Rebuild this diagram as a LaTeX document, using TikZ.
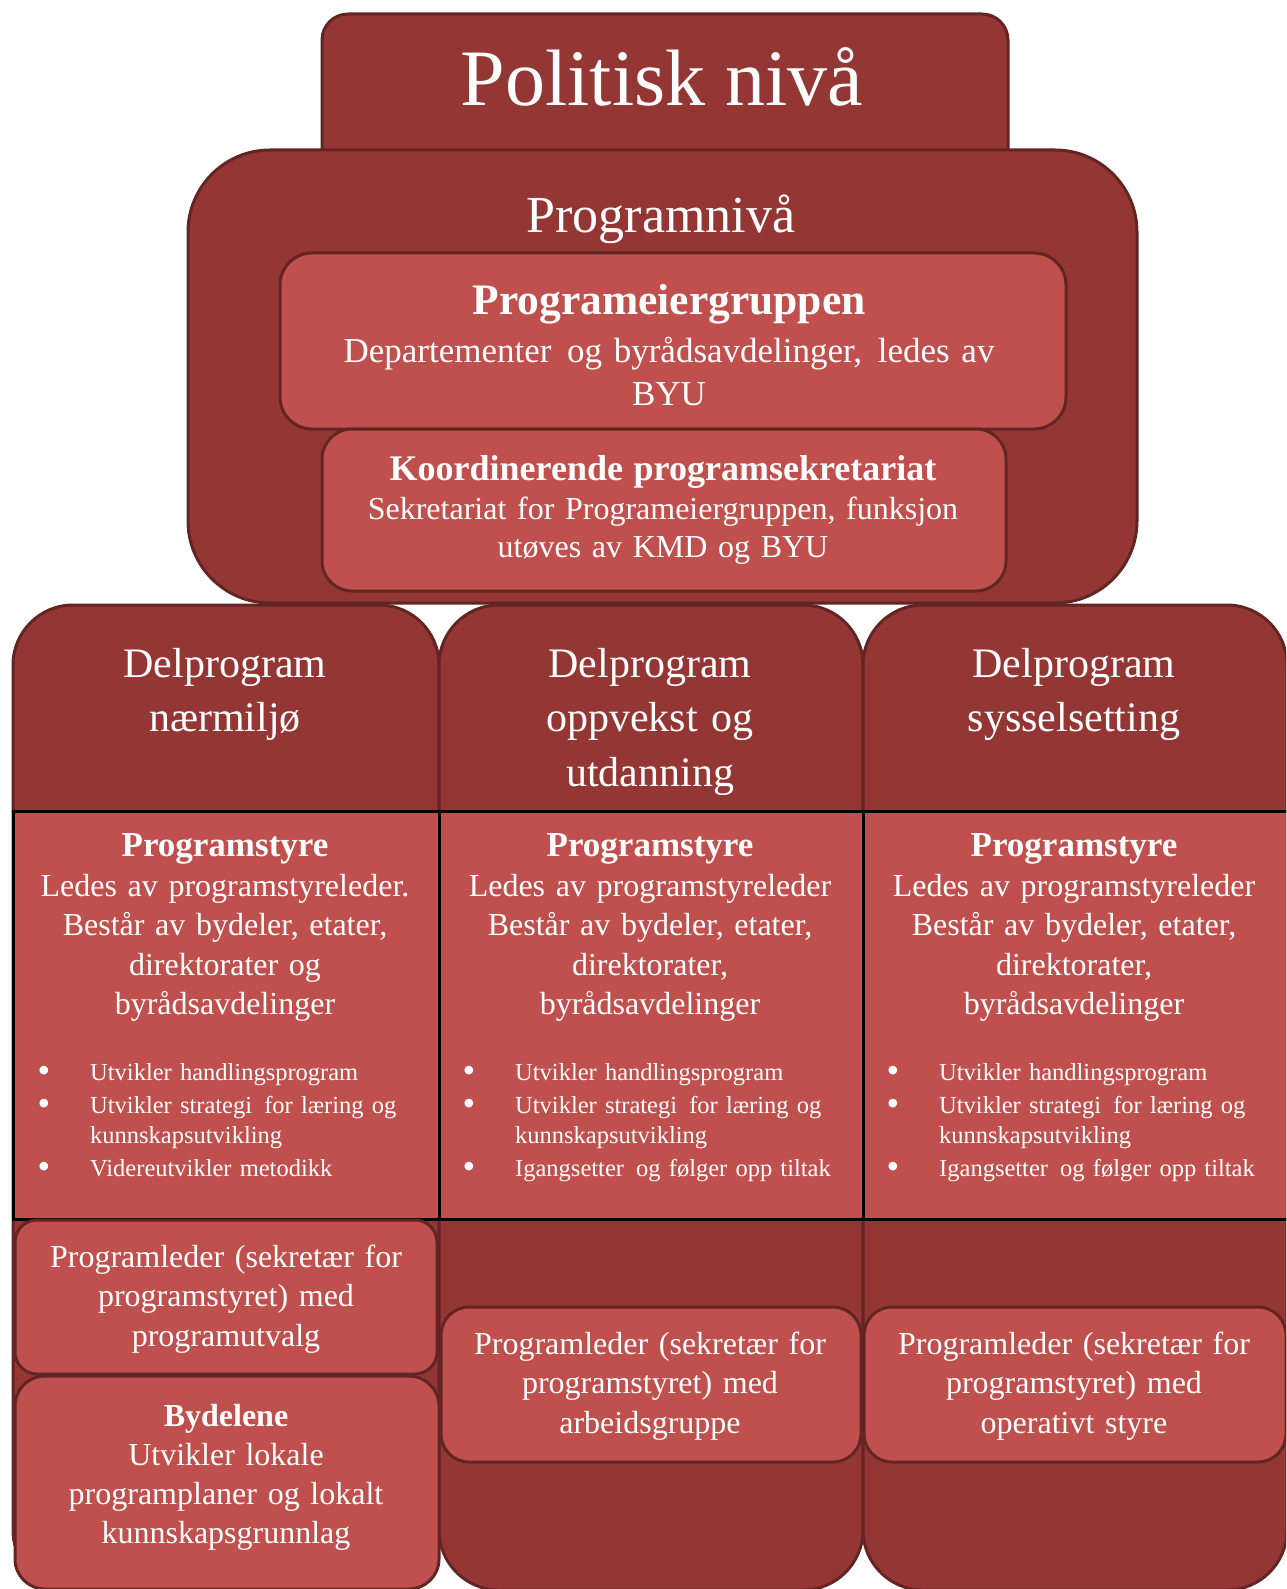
\documentclass[tikz,border=0pt]{standalone}
\usepackage{fontspec}
\setmainfont{Liberation Serif}
\usepackage{tikz}

\definecolor{darkred}{HTML}{943634}
\definecolor{lightred}{HTML}{C0504D}
\definecolor{edgered}{HTML}{632523}

\tikzset{
  darkbox/.style={draw=edgered, fill=darkred, line width=3pt},
  lightbox/.style={draw=edgered, fill=lightred, line width=3pt},
  styrecell/.style={draw=black, fill=lightred, line width=3pt},
  txt/.style={text=white, inner sep=0pt, align=center, anchor=base},
  bodytxt/.style={txt, text width=400, font=\fontsize{32}{39.5}\selectfont},
  headtxt/.style={txt, text width=400, font=\fontsize{42}{54.5}\selectfont},
  bullettxt/.style={text=white, inner sep=0pt, align=left, anchor=base west,
    text width=345, font=\fontsize{24.5}{29.5}\selectfont},
}
\newcommand{\blt}{\leavevmode\llap{\raisebox{-2pt}{\fontsize{36}{0}\selectfont\textbullet}\hspace{40pt}}}

\begin{document}
\begin{tikzpicture}[x=1pt,y=-1pt]
  \useasboundingbox (0,0) rectangle (1286,1589);
  \clip (0,0) rectangle (1286,1589);

  % politisk og programniva
  \draw[darkbox, rounded corners=26] (322,14) rectangle (1008,175);
  \draw[darkbox, rounded corners=82] (188,150) rectangle (1137,603);
  \draw[lightbox, rounded corners=32] (280,253) rectangle (1066,429);
  \draw[lightbox, rounded corners=30] (322,429) rectangle (1006,591);

  \node[txt, font=\fontsize{80}{96}\selectfont] (politisk) at (662,106) {Politisk nivå};
  \node[txt, font=\fontsize{52}{62}\selectfont] (programniva) at (661,233) {Programnivå};
  \node[txt, text width=780, font=\fontsize{35}{43}\selectfont] (eiergruppe) at (669,314)
    {{\bfseries\fontsize{43.5}{43}\selectfont Programeiergruppen}\\[5pt]
     Departementer\hspace{4pt} og byrådsavdelinger,\hspace{4pt} ledes av\\BYU};
  \node[txt, text width=680, font=\fontsize{32}{38.5}\selectfont] (sekretariat) at (663,480)
    {{\bfseries\fontsize{36}{38}\selectfont Koordinerende programsekretariat}\\[0.5pt]
     Sekretariat for Programeiergruppen, funksjon\\utøves av KMD og BYU};

  % delprogram
  \draw[darkbox, rounded corners=60] (13,605) rectangle (439,1590);
  \draw[darkbox, rounded corners=60] (439,605) rectangle (863,1590);
  \draw[darkbox, rounded corners=60] (863,605) rectangle (1287,1590);

  \node[headtxt] (delA) at (225,677) {Delprogram\\nærmiljø};
  \node[headtxt] (delB) at (650,677) {Delprogram\\oppvekst og\\utdanning};
  \node[headtxt] (delC) at (1074,677) {Delprogram\\sysselsetting};

  % programstyre
  \draw[styrecell] (13,811) rectangle (439,1219);
  \draw[styrecell] (439,811) rectangle (863,1219);
  \draw[styrecell] (863,811) rectangle (1288,1219);

  \node[bodytxt] (styreA) at (225,856)
    {{\bfseries\fontsize{35}{39}\selectfont Programstyre}\\[0.5pt]
     Ledes av programstyreleder.\\Består av bydeler, etater,\\direktorater og\\byrådsavdelinger};
  \node[bodytxt] (styreB) at (650,856)
    {{\bfseries\fontsize{35}{39}\selectfont Programstyre}\\[0.5pt]
     Ledes av programstyreleder\\Består av bydeler, etater,\\direktorater,\\byrådsavdelinger};
  \node[bodytxt] (styreC) at (1074,856)
    {{\bfseries\fontsize{35}{39}\selectfont Programstyre}\\[0.5pt]
     Ledes av programstyreleder\\Består av bydeler, etater,\\direktorater,\\byrådsavdelinger};

  \node[bullettxt] (oppgA) at (90,1080)
    {\blt Utvikler handlingsprogram\\[4pt]
     \blt Utvikler strategi\hspace{4pt} for læring og\\kunnskapsutvikling\\[4pt]
     \blt Videreutvikler metodikk};
  \node[bullettxt] (oppgB) at (515,1080)
    {\blt Utvikler handlingsprogram\\[4pt]
     \blt Utvikler strategi\hspace{4pt} for læring og\\kunnskapsutvikling\\[4pt]
     \blt Igangsetter\hspace{4pt} og følger opp tiltak};
  \node[bullettxt] (oppgC) at (939,1080)
    {\blt Utvikler handlingsprogram\\[4pt]
     \blt Utvikler strategi\hspace{4pt} for læring og\\kunnskapsutvikling\\[4pt]
     \blt Igangsetter\hspace{4pt} og følger opp tiltak};

  % programleder og bydeler
  \draw[lightbox, rounded corners=22] (15,1220) rectangle (437,1374);
  \draw[lightbox, rounded corners=30] (15,1376) rectangle (439,1589);
  \draw[lightbox, rounded corners=28] (441,1307) rectangle (861,1462);
  \draw[lightbox, rounded corners=28] (864,1307) rectangle (1286,1462);

  \node[bodytxt] (lederA) at (226,1267)
    {Programleder (sekretær for\\programstyret) med\\programutvalg};
  \node[bodytxt, font=\fontsize{32}{39.3}\selectfont] (bydelene) at (226,1426)
    {{\bfseries Bydelene}\\Utvikler lokale\\programplaner og lokalt\\kunnskapsgrunnlag};
  \node[bodytxt] (lederB) at (650,1354)
    {Programleder (sekretær for\\programstyret) med\\arbeidsgruppe};
  \node[bodytxt] (lederC) at (1074,1354)
    {Programleder (sekretær for\\programstyret) med\\operativt styre};
\end{tikzpicture}
\end{document}
